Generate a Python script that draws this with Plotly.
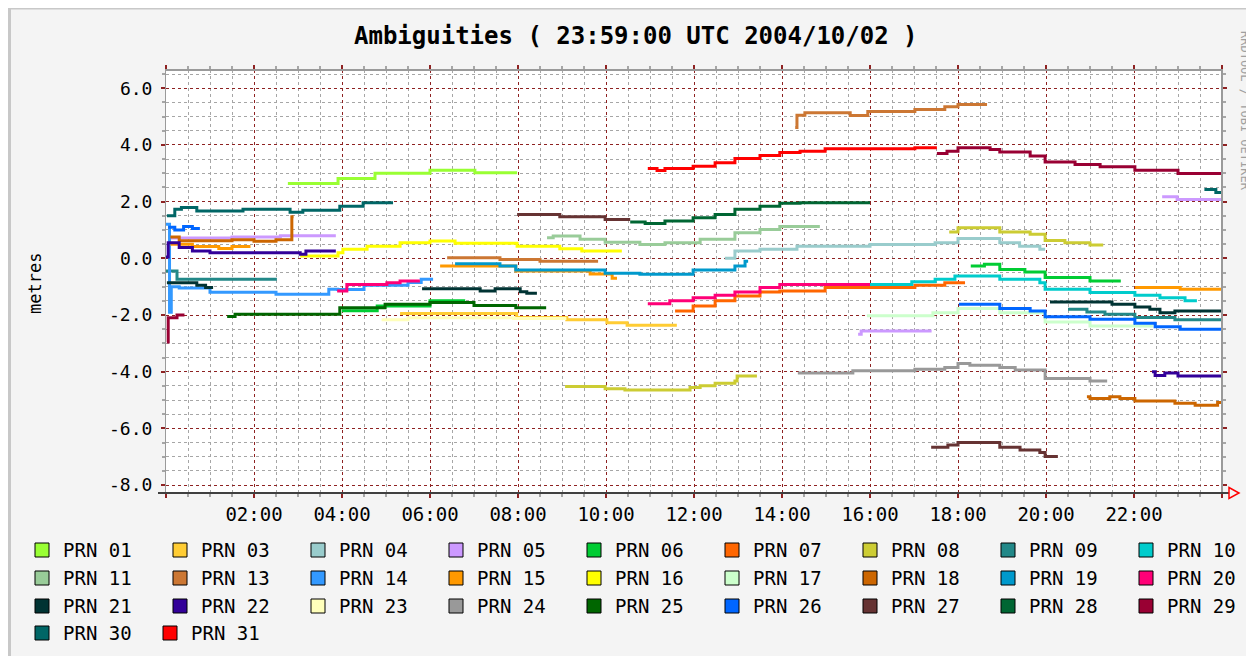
import plotly.graph_objects as go

# ---------------- data (time in hours UTC, ambiguity in metres) ----------------
N = None
prn01_t = [2.77, 3.91, 4.75, 6.0, 7.02, 7.98]
prn01_v = [2.64, 2.82, 3.0, 3.11, 3.02, 3.02]
prn03_t = [5.32, 7.97, 9.11, 10.02, 10.48, 11.61]
prn03_v = [-1.95, -2.09, -2.17, -2.27, -2.36, -2.36]
prn04_t = [12.7, 12.93, 13.5, 14.34, 16.0, 17.48, 18.0, 18.95, 19.4, 19.86, 19.98]
prn04_v = [0.0, 0.26, 0.32, 0.43, 0.49, 0.55, 0.7, 0.55, 0.43, 0.32, 0.32]
prn05_t = [0.1, 1.5, 2.6, 3.86, N, 15.73, 15.8, 17.4, N, 22.64, 22.98, 24.0]
prn05_v = [0.72, 0.75, 0.8, 0.8, N, -2.68, -2.56, -2.56, N, 2.17, 2.08, 2.08]
prn06_t = [4.0, 4.8, 6.0, 6.8, N, 18.29, 18.6, 18.95, 19.52, 19.98, 21.0, 21.7]
prn06_v = [-1.85, -1.68, -1.5, -1.5, N, -0.27, -0.21, -0.39, -0.48, -0.68, -0.8, -0.8]
prn07_t = [11.57, 11.98, 12.48, 12.93, 13.5, 13.95, 14.98, 17.02, 17.7, 18.16]
prn07_v = [-1.86, -1.68, -1.5, -1.33, -1.19, -1.15, -1.03, -0.95, -0.86, -0.86]
prn08_t = [9.07, 9.98, 10.43, 11.91, 12.14, 12.48, 12.93, 12.98, 13.43,
           N, 17.8, 18.0, 18.95, 19.64, 19.98, 20.43, 21.0, 21.3]
prn08_v = [-4.52, -4.6, -4.65, -4.56, -4.5, -4.41, -4.33, -4.15, -4.15,
           N, 0.93, 1.08, 0.93, 0.85, 0.63, 0.55, 0.47, 0.47]
prn09_t = [0.0, 0.25, 2.52, N, 20.5, 20.93, 21.34, 22.02, 22.93, 24.0]
prn09_v = [-0.45, -0.74, -0.74, N, -1.8, -1.89, -1.97, -2.09, -2.17, -2.17]
prn10_t = [16.0, 16.95, 17.48, 17.93, 18.95, 19.86, 19.98, 21.0, 22.02, 22.59, 23.16, 23.43]
prn10_v = [-0.92, -0.83, -0.74, -0.62, -0.74, -0.86, -1.09, -1.21, -1.3, -1.39, -1.5, -1.5]
prn11_t = [8.66, 8.8, 9.41, 9.98, 10.77, 11.34, 12.14, 12.93, 13.5, 13.95, 14.86]
prn11_v = [0.73, 0.79, 0.67, 0.57, 0.49, 0.55, 0.67, 0.9, 1.02, 1.12, 1.12]
prn13_t = [6.39, 7.59, 8.5, 9.82, N, 14.3, 14.34, 14.52, 15.55, 15.95, 17.02, 17.7, 18.0, 18.66]
prn13_v = [0.02, -0.04, -0.1, -0.1, N, 4.62, 5.05, 5.14, 5.04, 5.18, 5.25, 5.35, 5.43, 5.43]
prn14_t = [0.0, 0.08, 0.12, 0.3, 1.0, 2.5, 3.7, 3.9, 4.5, 5.5, 5.8, 6.07]
prn14_v = [1.2, -1.9, -1.0, -1.05, -1.2, -1.27, -1.09, -1.1, -0.95, -0.85, -0.74, -0.74]
prn15_t = [0.1, 0.6, 1.2, 1.5, 1.92, N, 6.23, 7.95, 9.64, 10.14, 10.25, N, 22.02, 23.05, 24.0]
prn15_v = [0.5, 0.42, 0.35, 0.42, 0.42, N, -0.27, -0.45, -0.55, -0.7, -0.7, N, -1.03, -1.09, -1.09]
prn16_t = [3.05, 3.91, 4.02, 4.57, 5.32, 6.0, 6.57, 7.98, 8.95, 9.45, 10.36]
prn16_v = [0.08, 0.2, 0.32, 0.43, 0.55, 0.61, 0.53, 0.43, 0.34, 0.26, 0.26]
prn17_t = [15.93, 17.43, 18.0, 18.95, 19.98, 21.0, 22.43]
prn17_v = [-2.03, -1.92, -1.77, -1.92, -2.25, -2.39, -2.39]
prn18_t = [0.1, 0.3, 1.5, 2.0, 2.5, 2.86, 2.9, N, 20.93, 21.0, 21.45, 21.68, 22.02, 22.93, 23.39, 23.9, 24.0]
prn18_v = [0.75, 0.62, 0.66, 0.6, 0.66, 1.47, 1.47, N, -4.88, -4.95, -4.88, -4.95, -5.03, -5.11, -5.18, -5.09, -5.09]
prn19_t = [6.57, 7.59, 7.95, 9.98, 10.77, 11.98, 12.93, 13.16, 13.23]
prn19_v = [-0.19, -0.27, -0.41, -0.53, -0.56, -0.41, -0.27, -0.1, -0.1]
prn20_t = [3.89, 4.11, 5.02, 5.32, 5.77, N, 10.95, 11.45, 11.98, 12.48, 12.93, 13.5, 13.95, 16.0]
prn20_v = [-1.15, -0.92, -0.86, -0.8, -0.8, N, -1.6, -1.5, -1.39, -1.3, -1.19, -1.03, -0.92, -0.92]
prn21_t = [0.02, 0.7, 0.9, 1.07, N, 5.82, 7.14, 7.48, 8.05, 8.2, 8.43,
           N, 20.09, 21.5, 22.02, 22.36, 22.59, 22.93, 24.0]
prn21_v = [-0.86, -0.95, -1.03, -1.03, N, -1.07, -1.15, -1.07, -1.18, -1.23, -1.23,
           N, -1.54, -1.62, -1.72, -1.8, -1.92, -1.86, -1.86]
prn22_t = [0.0, 0.05, 0.3, 0.6, 1.0, 3.05, 3.18, 3.86, N, 22.41, 22.48, 22.7, 23.0, 24.0]
prn22_v = [0.05, 0.55, 0.38, 0.26, 0.2, 0.14, 0.26, 0.26, N, -4.0, -4.13, -4.05, -4.15, -4.15]
prn23_t = [4.9, 5.5, 7.9, 9.1]
prn23_v = [-2.17, -2.1, -2.12, -2.12]
prn24_t = [14.36, 15.61, 17.02, 17.7, 18.0, 18.27, 18.95, 19.3, 19.98, 21.0, 21.39]
prn24_v = [-4.05, -3.97, -3.91, -3.85, -3.71, -3.77, -3.85, -3.94, -4.24, -4.33, -4.33]
prn25_t = [1.39, 1.57, 3.95, 4.98, 6.0, 7.0, 7.95, 8.64]
prn25_v = [-2.05, -1.97, -1.74, -1.62, -1.56, -1.66, -1.74, -1.74]
prn26_t = [0.05, 0.2, 0.4, 0.6, 0.77, N, 18.02, 18.95, 19.64, 19.98, 21.0, 22.02, 22.48, 23.05, 24.0]
prn26_v = [1.1, 1.0, 1.12, 1.05, 1.05, N, -1.62, -1.77, -1.86, -2.06, -2.15, -2.29, -2.41, -2.5, -2.5]
prn27_t = [7.98, 8.95, 9.98, 10.55, N, 17.39, 17.77, 18.0, 18.95, 19.41, 19.86, 19.98, 20.27]
prn27_v = [1.55, 1.47, 1.37, 1.37, N, -6.67, -6.59, -6.5, -6.67, -6.76, -6.85, -6.99, -6.99]
prn28_t = [10.55, 10.89, 11.34, 11.98, 12.48, 12.93, 13.5, 13.95, 14.41, 16.0]
prn28_v = [1.28, 1.23, 1.32, 1.43, 1.55, 1.73, 1.84, 1.94, 1.96, 1.96]
prn29_t = [0.02, 0.05, 0.25, 0.42, N, 17.52, 17.75, 18.0, 18.73, 18.95, 19.64, 19.98, 20.66, 21.23, 22.02, 23.0, 24.0]
prn29_v = [-2.95, -2.1, -2.0, -2.0, N, 3.7, 3.78, 3.9, 3.84, 3.75, 3.61, 3.4, 3.31, 3.23, 3.11, 2.99, 2.99]
prn30_t = [0.02, 0.2, 0.35, 0.7, 1.75, 2.82, 3.11, 3.95, 4.48, 5.16, N, 23.6, 23.86, 24.0]
prn30_v = [1.5, 1.73, 1.79, 1.67, 1.73, 1.63, 1.7, 1.84, 1.96, 1.96, N, 2.43, 2.32, 2.32]
prn31_t = [10.95, 11.16, 11.34, 11.98, 12.48, 12.93, 13.5, 13.95, 14.41, 14.98, 17.02, 17.52]
prn31_v = [3.17, 3.1, 3.17, 3.25, 3.37, 3.52, 3.63, 3.73, 3.78, 3.87, 3.9, 3.9]

prn_labels = ["PRN 01", "PRN 03", "PRN 04", "PRN 05", "PRN 06", "PRN 07", "PRN 08", "PRN 09", "PRN 10",
              "PRN 11", "PRN 13", "PRN 14", "PRN 15", "PRN 16", "PRN 17", "PRN 18", "PRN 19", "PRN 20",
              "PRN 21", "PRN 22", "PRN 23", "PRN 24", "PRN 25", "PRN 26", "PRN 27", "PRN 28", "PRN 29",
              "PRN 30", "PRN 31"]
prn_colors = ["#99ff33", "#ffcc33", "#99cccc", "#cc99ff", "#00cc33", "#ff6600", "#cccc33", "#228888", "#00cccc",
              "#99cc99", "#cc7733", "#3399ff", "#ff9900", "#ffff00", "#ccffcc", "#cc6600", "#0099cc", "#ff0077",
              "#003333", "#330099", "#ffffbb", "#999999", "#006600", "#0066ff", "#663333", "#006633", "#990033",
              "#006666", "#ff0000"]
prn_times = [prn01_t, prn03_t, prn04_t, prn05_t, prn06_t, prn07_t, prn08_t, prn09_t, prn10_t,
             prn11_t, prn13_t, prn14_t, prn15_t, prn16_t, prn17_t, prn18_t, prn19_t, prn20_t,
             prn21_t, prn22_t, prn23_t, prn24_t, prn25_t, prn26_t, prn27_t, prn28_t, prn29_t,
             prn30_t, prn31_t]
prn_values = [prn01_v, prn03_v, prn04_v, prn05_v, prn06_v, prn07_v, prn08_v, prn09_v, prn10_v,
              prn11_v, prn13_v, prn14_v, prn15_v, prn16_v, prn17_v, prn18_v, prn19_v, prn20_v,
              prn21_v, prn22_v, prn23_v, prn24_v, prn25_v, prn26_v, prn27_v, prn28_v, prn29_v,
              prn30_v, prn31_v]

x_tickvals = [0, 2, 4, 6, 8, 10, 12, 14, 16, 18, 20, 22, 24]
x_ticktext = ["", "02:00", "04:00", "06:00", "08:00", "10:00", "12:00", "14:00",
              "16:00", "18:00", "20:00", "22:00", ""]
y_tickvals = [-8, -6, -4, -2, 0, 2, 4, 6]
y_ticktext = ["-8.0", "-6.0", "-4.0", "-2.0", "0.0", "2.0", "4.0", "6.0"]

# ---------------- layout geometry ----------------
# The page body has an 8px margin, so figure coords = screen coords - 8.
OFF = 8
FW, FH = 1254 - OFF, 656 - OFF
L, R, T, B = 166, 1222, 70, 493          # plot area in screen pixels
PW, PH = R - L, B - T


def px(xp):          # screen x -> paper x
    return (xp - L) / PW


def py(yp):          # screen y -> paper y
    return (B - yp) / PH


MONO = "DejaVu Sans Mono"
MGRID = "#8e2222"
GRID = "#a6a6a6"

fig = go.Figure()
for name, col, t, v in zip(prn_labels, prn_colors, prn_times, prn_values):
    fig.add_trace(go.Scatter(x=t, y=v, mode="lines", name=name, showlegend=False,
                             connectgaps=False, hoverinfo="skip",
                             line=dict(color=col, width=3, shape="hv")))

shapes = []
annotations = []

# outer shade frame (top / left)
shapes += [
    dict(type="rect", xref="paper", yref="paper", x0=px(OFF), x1=px(1254), y0=py(OFF), y1=py(OFF + 1.5),
         fillcolor="#c8c8c8", line=dict(width=0), layer="below"),
    dict(type="rect", xref="paper", yref="paper", x0=px(OFF), x1=px(OFF + 3), y0=py(OFF), y1=py(656),
         fillcolor="#c8c8c8", line=dict(width=0), layer="below"),
]
# plot frame: top / right grey, bottom dark, red arrow
shapes += [
    dict(type="line", xref="paper", yref="paper", x0=0, x1=1, y0=1, y1=1,
         line=dict(color="#9a9a9a", width=2)),
    dict(type="line", xref="paper", yref="paper", x0=1, x1=1, y0=0, y1=1,
         line=dict(color="#9a9a9a", width=2)),
    dict(type="line", xref="paper", yref="paper", x0=px(158), x1=px(1229), y0=0, y1=0,
         line=dict(color="#404040", width=2)),
    dict(type="path", xref="paper", yref="paper",
         path="M %f %f L %f %f L %f %f Z" % (px(1229), py(487.5), px(1239), py(493), px(1229), py(498.5)),
         line=dict(color="#ff0000", width=1.5), fillcolor="rgba(0,0,0,0)"),
]

# title, axis label, credit
annotations.append(dict(text="<b>Ambiguities ( 23:59:00 UTC 2004/10/02 )</b>", xref="paper", yref="paper",
                        x=px(636), y=py(36), showarrow=False, xanchor="center", yanchor="middle",
                        font=dict(family=MONO, size=24, color="#000000")))
annotations.append(dict(text="metres", xref="paper", yref="paper", x=px(35), y=py(284), textangle=-90,
                        showarrow=False, xanchor="center", yanchor="middle",
                        font=dict(family=MONO, size=17, color="#000000")))
annotations.append(dict(text="RRDTOOL / TOBI OETIKER", xref="paper", yref="paper", x=px(1245), y=py(111),
                        textangle=90, showarrow=False, xanchor="center", yanchor="middle",
                        font=dict(family=MONO, size=12, color="#a0a0a0")))

# legend (RRDtool style, drawn manually)
row_y = [550, 578, 606, 633]
col_x = [35 + 138 * i for i in range(9)]
for i, (name, col) in enumerate(zip(prn_labels, prn_colors)):
    r, c = divmod(i, 9)
    bx = col_x[c] if r < 3 else [35, 163][c]
    cy = row_y[r]
    shapes.append(dict(type="rect", xref="paper", yref="paper", x0=px(bx), x1=px(bx + 14),
                       y0=py(cy - 7), y1=py(cy + 7), fillcolor=col, line=dict(color="#000000", width=1)))
    annotations.append(dict(text=name, xref="paper", yref="paper", x=px(bx + 26), y=py(cy),
                            showarrow=False, xanchor="left", yanchor="middle",
                            font=dict(family=MONO, size=19, color="#000000")))

fig.update_layout(
    width=FW, height=FH,
    margin=dict(l=L - OFF, r=FW - (R - OFF), t=T - OFF, b=FH - (B - OFF), pad=0),
    paper_bgcolor="#f4f4f4", plot_bgcolor="#ffffff",
    showlegend=False,
    font=dict(family=MONO, size=18, color="#000000"),
    shapes=shapes, annotations=annotations,
    xaxis=dict(range=[0, 24], tickmode="array", tickvals=x_tickvals, ticktext=x_ticktext,
               showgrid=True, gridcolor=MGRID, griddash="dot", gridwidth=1,
               ticks="outside", ticklen=4, tickcolor=MGRID, tickwidth=2, mirror="ticks",
               showline=True, linecolor="#9a9a9a", linewidth=1, zeroline=False,
               tickfont=dict(family=MONO, size=19), ticklabelstandoff=0,
               minor=dict(tickmode="linear", tick0=0, dtick=0.5, showgrid=True, gridcolor=GRID,
                          griddash="dot", gridwidth=1, ticks="outside", ticklen=3, tickcolor=GRID)),
    yaxis=dict(range=[-8.28, 6.645], tickmode="array", tickvals=y_tickvals, ticktext=y_ticktext,
               showgrid=True, gridcolor=MGRID, griddash="dot", gridwidth=1,
               ticks="outside", ticklen=4, tickcolor=MGRID, tickwidth=2, mirror="ticks",
               showline=True, linecolor="#9a9a9a", linewidth=1, zeroline=False,
               tickfont=dict(family=MONO, size=18), ticklabelstandoff=5,
               minor=dict(tickmode="linear", tick0=0, dtick=0.5, showgrid=True, gridcolor=GRID,
                          griddash="dot", gridwidth=1, ticks="outside", ticklen=3, tickcolor=GRID)),
)

fig.write_html("out.html")
